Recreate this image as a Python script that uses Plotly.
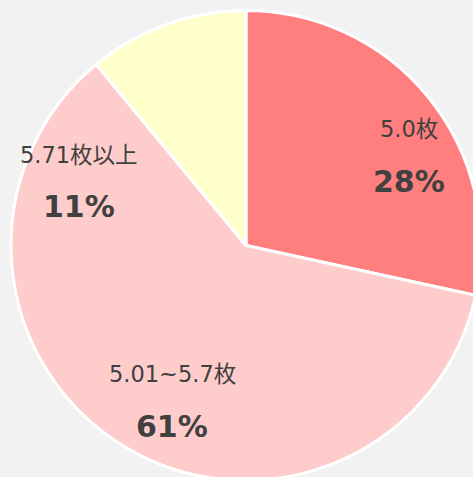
import plotly.graph_objects as go

labels = ["5.0枚", "5.01~5.7枚", "5.71枚以上"]
values = [28.4, 60.6, 11.0]
colors = ["#FF7F7F", "#FFCCCC", "#FFFFCC"]

W, H = 492, 492
cx, cy, r = 246, 245.5, 235
FONT = "DejaVu Sans, Noto Sans CJK JP"

fig = go.Figure(go.Pie(
    labels=labels,
    values=values,
    sort=False,
    direction="clockwise",
    rotation=0,
    marker=dict(colors=colors, line=dict(color="white", width=3)),
    textinfo="none",
    hoverinfo="label+percent",
    showlegend=False,
    domain=dict(x=[(cx - r) / W, (cx + r) / W], y=[(H - cy - r) / H, (H - cy + r) / H]),
))

total = sum(values)
# label positions (pixels in the page): x, y of category, y of percentage
label_pos = [(409, 129, 181), (172, 374, 426), (79, 155, 206)]
annotations = []
for lab, val, (px, py1, py2) in zip(labels, values, label_pos):
    annotations.append(dict(x=px / W, y=1 - py1 / H, xref="paper", yref="paper",
                            xanchor="center", yanchor="middle",
                            text=lab, showarrow=False,
                            font=dict(size=22.5, color="#404040", family=FONT)))
    annotations.append(dict(x=px / W, y=1 - py2 / H, xref="paper", yref="paper",
                            xanchor="center", yanchor="middle",
                            text=f"<b>{round(val / total * 100)}%</b>", showarrow=False,
                            font=dict(size=30, color="#404040", family=FONT)))

fig.update_layout(
    width=W, height=H,
    margin=dict(l=0, r=0, t=0, b=0),
    paper_bgcolor="#F2F2F2",
    plot_bgcolor="#F2F2F2",
    annotations=annotations,
)

fig.write_html(
    "out.html",
    config={"displayModeBar": False},
    post_script="document.body.style.margin='0';document.body.style.overflow='hidden';"
                "document.documentElement.style.overflow='hidden';"
                "document.documentElement.style.background='#F2F2F2';",
)
